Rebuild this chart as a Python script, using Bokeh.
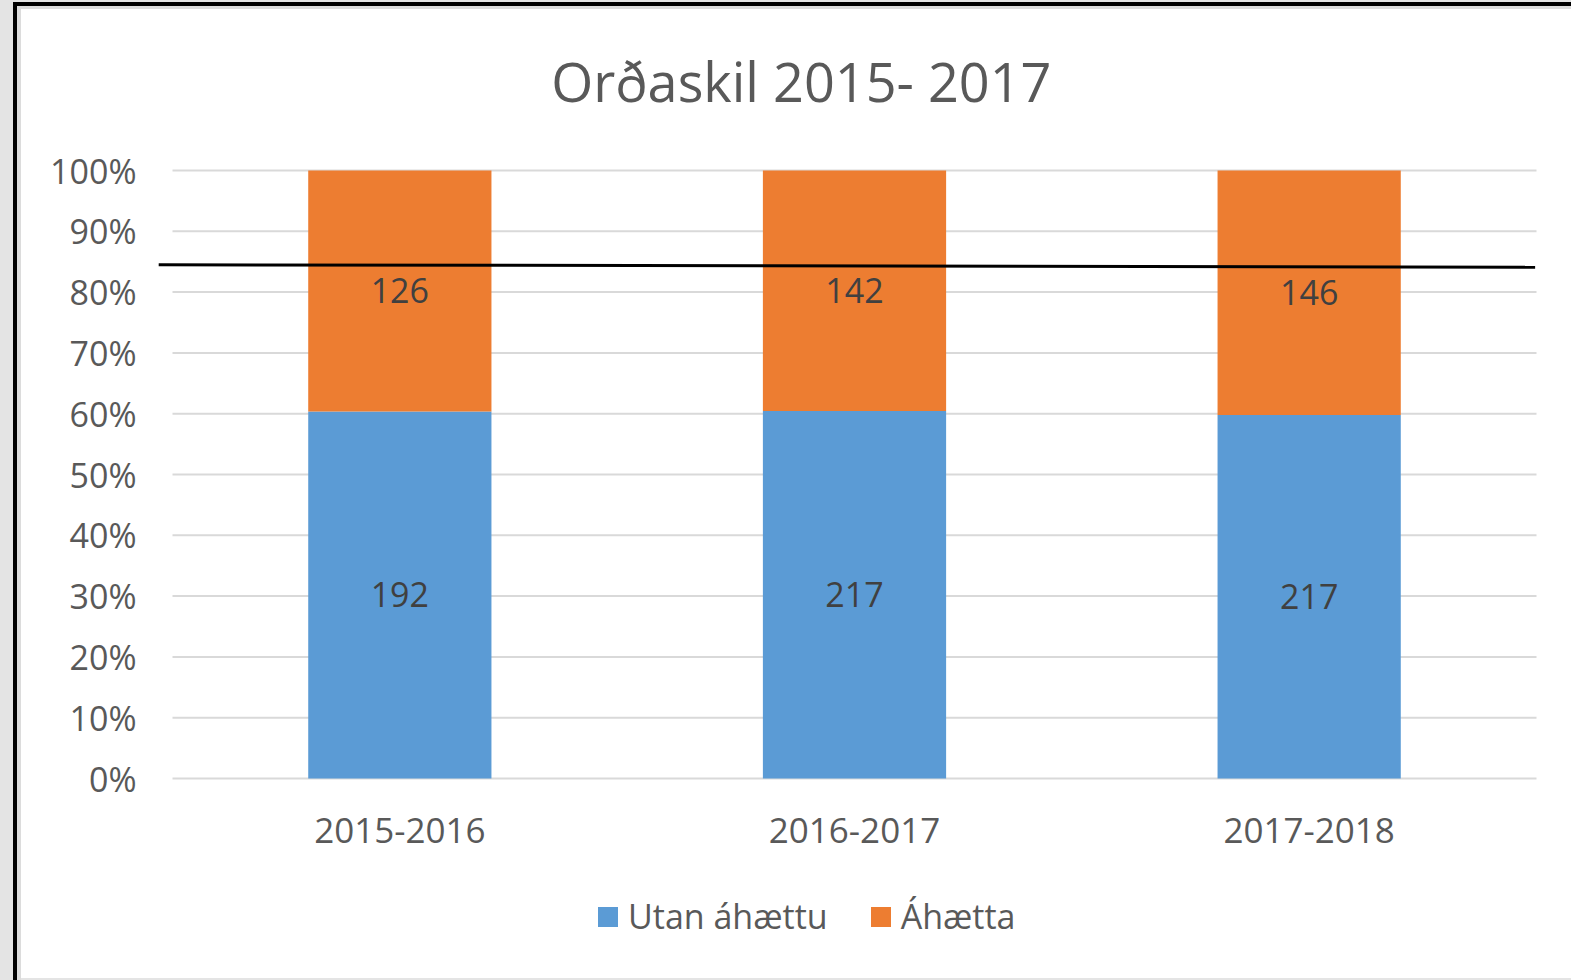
from bokeh.plotting import figure
from bokeh.models import (ColumnDataSource, FactorRange, Range1d, NumeralTickFormatter,
                          FixedTicker, LabelSet, Legend, LegendItem)
from bokeh.core.properties import value
from bokeh.embed import file_html
from bokeh.resources import INLINE

# ---- data ----
categories = ["2015-2016", "2016-2017", "2017-2018"]
utan_ahaettu = [192, 217, 217]
ahaetta = [126, 142, 146]
series_names = ["Utan áhættu", "Áhætta"]
title_text = "Orðaskil 2015- 2017"
y_ticks = [0.0, 0.1, 0.2, 0.3, 0.4, 0.5, 0.6, 0.7, 0.8, 0.9, 1.0]
ref_line_y = [0.845, 0.841]

BLUE = "#5B9BD5"
ORANGE = "#ED7D31"
GRID = "#D9D9D9"
TXT = "#595959"
FONT = "Open Sans"

totals = [a + b for a, b in zip(utan_ahaettu, ahaetta)]
utan_pct = [a / t for a, t in zip(utan_ahaettu, totals)]
ah_pct = [b / t for b, t in zip(ahaetta, totals)]

src = ColumnDataSource(dict(
    cat=categories,
    utan=utan_pct,
    ah=ah_pct,
    utan_mid=[u / 2 for u in utan_pct],
    ah_mid=[u + a / 2 for u, a in zip(utan_pct, ah_pct)],
    utan_txt=[str(v) for v in utan_ahaettu],
    ah_txt=[str(v) for v in ahaetta],
    cat_y=[-0.0855] * len(categories),
))
title_src = ColumnDataSource(dict(x=[(categories[1], -0.117)], y=[1.148], text=[title_text]))

W, H = 1571, 980
# the frame extends above 100% and below 0% so that the title, category labels
# and legend sit inside it (the axis ticks only cover 0-100%)
p = figure(width=W, height=H, output_backend="svg", toolbar_location=None,
           title=None,
           x_range=FactorRange(factors=categories, range_padding=0.0308,
                               range_padding_units="absolute"),
           y_range=Range1d(-0.3240, 1.2714),
           min_border_left=158, min_border_right=21,
           min_border_top=5, min_border_bottom=5)
p.background_fill_color = None
p.border_fill_color = None
p.outline_line_color = None
p.xgrid.visible = False
p.ygrid.visible = False
p.styles = {
    "background-color": "white",
    "box-shadow": ("inset 13px 2px 0 0 #E4E4E4, inset 17px 6px 0 0 #000000, "
                   "inset 21px 9px 0 0 #DCDCDC, inset 0 -2px 0 0 #E4E4E4"),
}

# manual gridlines spanning the category band only
p.segment(x0=[(categories[0], -0.5)] * len(y_ticks),
          x1=[(categories[-1], 0.5)] * len(y_ticks),
          y0=y_ticks, y1=y_ticks, line_color=GRID, line_width=2)

r = p.vbar_stack(["utan", "ah"], x="cat", width=0.403, source=src,
                 color=[BLUE, ORANGE], line_color=None)

# black reference line drawn on the chart
p.line(x=[(categories[0], -0.531), (categories[-1], 0.497)], y=ref_line_y,
       line_color="black", line_width=3)

for ycol, tcol in (("utan_mid", "utan_txt"), ("ah_mid", "ah_txt")):
    p.add_layout(LabelSet(x="cat", y=ycol, text=tcol, source=src,
                          text_align="center", text_baseline="middle",
                          text_color="#404040", text_font=value(FONT),
                          text_font_size="34px"))

# category labels
p.add_layout(LabelSet(x="cat", y="cat_y", text="cat", source=src,
                      text_align="center", text_baseline="middle",
                      text_color=TXT, text_font=value(FONT),
                      text_font_size="35px"))
p.xaxis.visible = False

# title
p.add_layout(LabelSet(x="x", y="y", text="text", source=title_src,
                      text_align="center", text_baseline="middle",
                      text_color=TXT, text_font=value(FONT), text_font_size="54px"))

# y axis
p.yaxis.ticker = FixedTicker(ticks=y_ticks)
p.yaxis.formatter = NumeralTickFormatter(format="0%")
p.yaxis.axis_line_color = None
p.yaxis.major_tick_line_color = None
p.yaxis.minor_tick_line_color = None
p.yaxis.major_tick_out = 0
p.yaxis.major_label_standoff = 22
p.yaxis.major_label_text_font = FONT
p.yaxis.major_label_text_font_size = "34px"
p.yaxis.major_label_text_color = TXT

# legend
legend = Legend(items=[LegendItem(label=series_names[0], renderers=[r[0]]),
                       LegendItem(label=series_names[1], renderers=[r[1]])],
                orientation="horizontal", location=(437, 36),
                glyph_width=25, glyph_height=25, label_standoff=8, spacing=40,
                padding=0, margin=0, border_line_color=None,
                background_fill_alpha=0,
                label_text_font=FONT, label_text_font_size="34px",
                label_text_color=TXT)
p.add_layout(legend, "center")

open("out.html", "w").write(file_html(p, INLINE))
